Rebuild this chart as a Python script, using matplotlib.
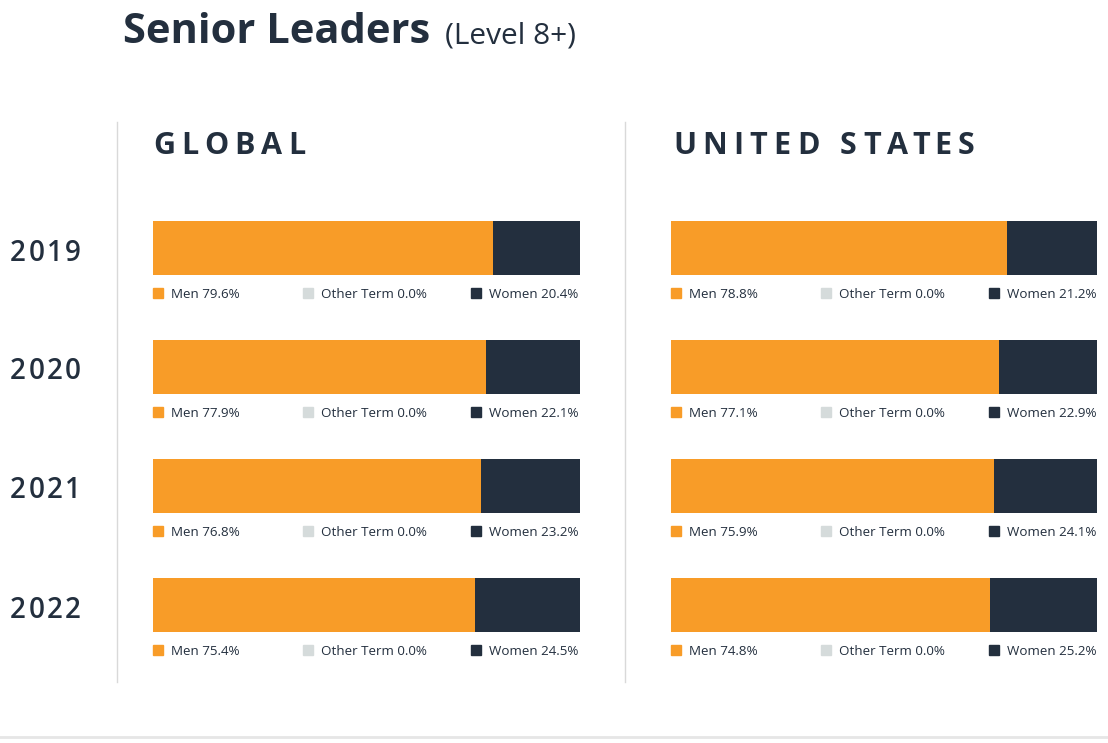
import numpy as np
import matplotlib
matplotlib.use('Agg')
import matplotlib.pyplot as plt
from matplotlib.patches import Rectangle
from matplotlib.lines import Line2D

plt.rcParams['font.family'] = ['Open Sans', 'DejaVu Sans']

years = ['2019', '2020', '2021', '2022']
global_men = [79.6, 77.9, 76.8, 75.4]
global_other = [0.0, 0.0, 0.0, 0.0]
global_women = [20.4, 22.1, 23.2, 24.5]
us_men = [78.8, 77.1, 75.9, 74.8]
us_other = [0.0, 0.0, 0.0, 0.0]
us_women = [21.2, 22.9, 24.1, 25.2]

ORANGE = '#f89c28'
NAVY = '#232f3e'
GREY = '#d5dbdb'
LINE = '#d9d9d9'

W, H = 1108, 743
fig = plt.figure(figsize=(W / 100, H / 100), dpi=100)
renderer = fig.canvas.get_renderer()


def px_box(l, t, r, b):
    return [l / W, 1 - b / H, (r - l) / W, (b - t) / H]


def text_width(s, **kw):
    t = fig.text(0, 0, s, **kw)
    w = t.get_window_extent(renderer).width
    t.remove()
    return w


def spaced_text(x0, y, s, span, **kw):
    # letter-spaced text so that the whole word covers `span` pixels
    natural = text_width(s, **kw)
    sp = (span - natural) / max(len(s) - 1, 1)
    for k, ch in enumerate(s):
        if ch == ' ':
            continue
        x = x0 + text_width(s[:k], **kw) + k * sp if k else x0
        fig.text(x / W, 1 - y / H, ch, va='baseline', ha='left', **kw)


# title
fig.text(123 / W, 1 - 43 / H, 'Senior Leaders', fontsize=30,
         fontweight='bold', color=NAVY, va='baseline')
fig.text(445 / W, 1 - 43 / H, '(Level 8+)', fontsize=21.5, color=NAVY,
         va='baseline')

# region headers
spaced_text(153, 154, 'GLOBAL', 152, fontsize=22, fontweight='bold', color=NAVY)
spaced_text(673, 154, 'UNITED STATES', 301, fontsize=22, fontweight='bold',
            color=NAVY)

# separators
for xs in (117, 625):
    fig.add_artist(Line2D([xs / W, xs / W], [1 - 122 / H, 1 - 682 / H],
                          color=LINE, lw=1))
fig.add_artist(Line2D([0, 1], [1 - 737 / H, 1 - 737 / H], color='#e6e6e6', lw=2))

ax_g = fig.add_axes(px_box(153, 188.5, 580, 664.5))
ax_u = fig.add_axes(px_box(671, 188.5, 1097, 664.5))

y = np.arange(len(years))

# year labels
for i, yr in enumerate(years):
    spaced_text(10, 260.5 + 119 * i, yr, 71, fontsize=20, fontweight='semibold',
                color=NAVY)

for ax, men, other, women in ((ax_g, global_men, global_other, global_women),
                              (ax_u, us_men, us_other, us_women)):
    men = np.array(men)
    other = np.array(other)
    women = np.array(women)
    ax.barh(y, men, height=0.462, color=ORANGE)
    ax.barh(y, other, left=men, height=0.462, color=GREY)
    ax.barh(y, women, left=men + other, height=0.462, color=NAVY)
    ax.set_xlim(0, 100)
    ax.set_ylim(3.5, -0.5)
    ax.axis('off')

    aw = ax.get_window_extent(renderer).width
    tr = ax.get_yaxis_transform()
    for i in range(len(years)):
        items = [('Men', men[i], ORANGE, 0),
                 ('Other Term', other[i], GREY, 150),
                 ('Women', women[i], NAVY, 318)]
        for lab, val, col, off in items:
            ax.add_patch(Rectangle((off / aw, i + 0.340), 10 / aw, 0.084,
                                   transform=tr, color=col, clip_on=False))
            ax.text((off + 18) / aw, i + 0.423, f'{lab} {val:.1f}%',
                    transform=tr, fontsize=9.6, color=NAVY, va='baseline',
                    ha='left')

fig.savefig('out.png', dpi=100)
